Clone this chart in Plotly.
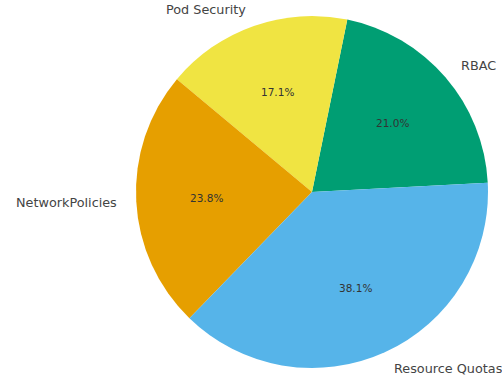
import math
import plotly.graph_objects as go

labels = ["RBAC", "Pod Security", "NetworkPolicies", "Resource Quotas"]
values = [22, 18, 25, 40]
colors = ["#009E73", "#F0E442", "#E69F00", "#56B4E9"]

W, H = 502, 376
cx, cy, r = 312, 192, 176
start_deg = 3.0  # counterclockwise from 3 o'clock

total = sum(values)
# plotly (counterclockwise) places the end of the first slice at the rotation angle
first_end = start_deg + 360 * values[0] / total

fig = go.Figure()
fig.add_trace(go.Pie(
    labels=labels, values=values, sort=False,
    direction="counterclockwise", rotation=90 - first_end,
    marker=dict(colors=colors, line=dict(width=0)),
    textinfo="none", textposition="none", hoverinfo="label+percent",
    showlegend=False,
    domain=dict(x=[(cx - r) / W, (cx + r) / W], y=[1 - (cy + r) / H, 1 - (cy - r) / H]),
))

acc = 0.0
ann = []
for lab, v in zip(labels, values):
    frac = v / total
    mid = math.radians(start_deg + 360 * (acc + frac / 2))
    acc += frac
    c, s = math.cos(mid), math.sin(mid)
    ann.append(dict(x=(cx + 0.6 * r * c) / W, y=1 - (cy - 0.6 * r * s) / H,
                    xref="paper", yref="paper", text=f"{frac*100:.1f}%", showarrow=False,
                    xanchor="center", yanchor="middle",
                    font=dict(family="DejaVu Sans", size=10.5, color="#333333")))
    ann.append(dict(x=(cx + 1.1 * r * c) / W, y=1 - (cy - 1.1 * r * s) / H,
                    xref="paper", yref="paper", text=lab, showarrow=False,
                    xanchor="left" if c > 0 else "right", yanchor="middle",
                    font=dict(family="DejaVu Sans", size=12.8, color="#444444")))

fig.update_layout(width=W, height=H, margin=dict(l=0, r=0, t=0, b=0),
                  paper_bgcolor="white", plot_bgcolor="white", annotations=ann)
fig.write_html("out.html")
